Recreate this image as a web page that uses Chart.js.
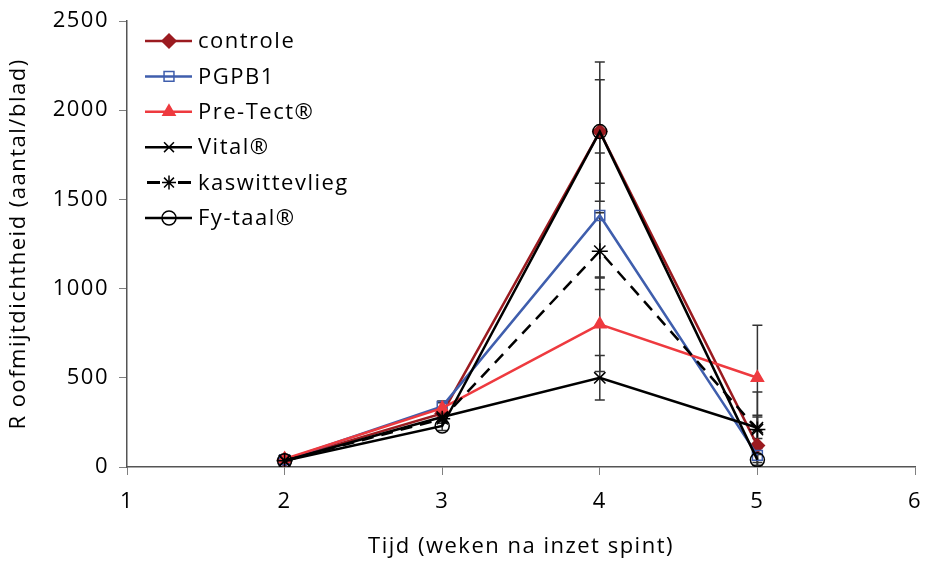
<!DOCTYPE html>
<html lang="nl">
<head>
    <meta charset="UTF-8">
    <title>Roofmijtdichtheid</title>
    <script src="https://cdn.jsdelivr.net/npm/chart.js"></script>
    <style>
        body { margin: 0; background: #ffffff; }
        #wrap { width: 925px; height: 564px; }
    </style>
</head>
<body>
    <div id="wrap"><canvas id="grafiek"></canvas></div>

    <script>
        // Weken na inzet spint
        const weken = [2, 3, 4, 5];

        const namen = ['controle', 'PGPB1', 'Pre-Tect®', 'Vital®', 'kaswittevlieg', 'Fy-taal®'];

        // Gemiddelde roofmijtdichtheid (aantal/blad)
        const controle      = [40, 300, 1880, 120];
        const pgpb1         = [40, 340, 1410, 65];
        const preTect       = [45, 330, 800, 500];
        const vital         = [35, 280, 500, 220];
        const kaswittevlieg = [35, 270, 1210, 210];
        const fyTaal        = [35, 230, 1880, 40];

        // Foutbalken (+/-)
        const errControle      = [15, 30, 390, 170];
        const errPgpb1         = [10, 30, 350, 40];
        const errPreTect       = [10, 30, 265, 295];
        const errVital         = [10, 25, 125, 60];
        const errKaswittevlieg = [10, 25, 215, 210];
        const errFyTaal        = [10, 25, 290, 30];

        const xTicks = [1, 2, 3, 4, 5, 6];
        const yTicks = [0, 500, 1000, 1500, 2000, 2500];

        const reeksen = [controle, pgpb1, preTect, vital, kaswittevlieg, fyTaal];
        const fouten = [errControle, errPgpb1, errPreTect, errVital, errKaswittevlieg, errFyTaal];
        const kleuren = ['#9b1b20', '#3f5ead', '#ee3a3f', '#000000', '#000000', '#000000'];
        const vormen = ['rectRot', 'rect', 'triangle', 'crossRot', 'star', 'circle'];
        const vulling = ['#9b1b20', 'rgba(0,0,0,0)', '#ee3a3f', 'rgba(0,0,0,0)', 'rgba(0,0,0,0)', 'rgba(0,0,0,0)'];
        const stippel = [[], [], [], [], [12, 8], []];
        const straal = [7, 7, 7, 8, 8, 7];

        const FONT = "'Open Sans', sans-serif";

        const datasets = reeksen.map((r, i) => ({
            label: namen[i],
            data: weken.map((w, j) => ({ x: w, y: r[j] })),
            borderColor: kleuren[i],
            borderWidth: 2.5,
            borderDash: stippel[i],
            pointStyle: vormen[i],
            pointRadius: straal[i],
            pointBorderWidth: 1.5,
            pointBorderColor: kleuren[i],
            pointBackgroundColor: vulling[i],
            fill: false,
            tension: 0,
            order: 5 - i
        }));

        // wat extra letterafstand zoals in het origineel
        const spatiering = {
            id: 'spatiering',
            beforeInit(chart) { chart.ctx.letterSpacing = '1.5px'; },
            beforeDraw(chart) { chart.ctx.letterSpacing = '1.5px'; }
        };

        // foutbalken tekenen via de schalen
        const foutbalken = {
            id: 'foutbalken',
            beforeDatasetsDraw(chart) {
                const ctx = chart.ctx;
                const xs = chart.scales.x, ys = chart.scales.y;
                ctx.save();
                ctx.strokeStyle = '#333333';
                ctx.lineWidth = 1.5;
                reeksen.forEach((r, i) => {
                    weken.forEach((w, j) => {
                        const px = xs.getPixelForValue(w);
                        const top = ys.getPixelForValue(r[j] + fouten[i][j]);
                        const bot = ys.getPixelForValue(Math.max(0, r[j] - fouten[i][j]));
                        ctx.beginPath();
                        ctx.moveTo(px, top); ctx.lineTo(px, bot);
                        ctx.moveTo(px - 5, top); ctx.lineTo(px + 5, top);
                        if (r[j] - fouten[i][j] > 0) {
                            ctx.moveTo(px - 5, bot); ctx.lineTo(px + 5, bot);
                        }
                        ctx.stroke();
                    });
                });
                ctx.restore();
            }
        };

        // legenda linksboven in het grafiekvlak
        const legenda = {
            id: 'legenda',
            afterDraw(chart) {
                const ctx = chart.ctx;
                ctx.save();
                ctx.font = '22px ' + FONT;
                ctx.letterSpacing = '1.5px';
                ctx.textBaseline = 'middle';
                namen.forEach((naam, i) => {
                    const y = 41 + i * 35.4;
                    ctx.strokeStyle = kleuren[i];
                    ctx.lineWidth = i === 4 ? 3 : 2.5;
                    ctx.setLineDash([]);
                    ctx.beginPath();
                    if (i === 4) {
                        ctx.moveTo(147, y); ctx.lineTo(160, y);
                        ctx.moveTo(178, y); ctx.lineTo(191, y);
                    } else {
                        ctx.moveTo(145, y); ctx.lineTo(192, y);
                    }
                    ctx.stroke();
                    ctx.fillStyle = vulling[i];
                    ctx.lineWidth = 1.5;
                    Chart.helpers.drawPoint(ctx, { pointStyle: vormen[i], radius: 7, rotation: 0, borderWidth: 1.5 }, 169, y);
                    ctx.fillStyle = '#000000';
                    ctx.fillText(naam, 198, y + 1);
                });
                ctx.restore();
            }
        };

        new Chart(document.getElementById('grafiek'), {
            type: 'line',
            data: { datasets: datasets },
            plugins: [spatiering, foutbalken, legenda],
            options: {
                responsive: true,
                maintainAspectRatio: false,
                animation: false,
                layout: { padding: { top: 21, right: 10, left: 0, bottom: 0 } },
                plugins: {
                    legend: { display: false },
                    tooltip: { enabled: false }
                },
                scales: {
                    x: {
                        type: 'linear',
                        min: 1, max: 6,
                        afterBuildTicks: s => { s.ticks = xTicks.map(v => ({ value: v })); },
                        afterFit: s => { s.height = 97; s.paddingRight = 0; },
                        grid: { drawOnChartArea: false, drawTicks: true, tickLength: 8, color: '#808080' },
                        border: { color: '#555555', width: 1.5 },
                        ticks: { color: '#000000', font: { family: FONT, size: 22 }, padding: 14, callback: v => String(v) },
                        title: {
                            display: true,
                            text: 'Tijd (weken na inzet spint)',
                            color: '#000000',
                            font: { family: FONT, size: 22 },
                            padding: { top: 9 }
                        }
                    },
                    y: {
                        min: 0, max: 2500,
                        afterBuildTicks: s => { s.ticks = yTicks.map(v => ({ value: v })); },
                        afterFit: s => { s.width = 127; s.paddingTop = 0; s.paddingBottom = 0; },
                        grid: { drawOnChartArea: false, drawTicks: true, tickLength: 8, color: '#808080' },
                        border: { color: '#555555', width: 1.5 },
                        ticks: { color: '#000000', font: { family: FONT, size: 22 }, padding: 10, callback: v => String(v) },
                        title: {
                            display: true,
                            text: 'R oofmijtdichtheid (aantal/blad)',
                            color: '#000000',
                            font: { family: FONT, size: 22 },
                            padding: { top: 6, bottom: 0 }
                        }
                    }
                }
            }
        });
    </script>
</body>
</html>
